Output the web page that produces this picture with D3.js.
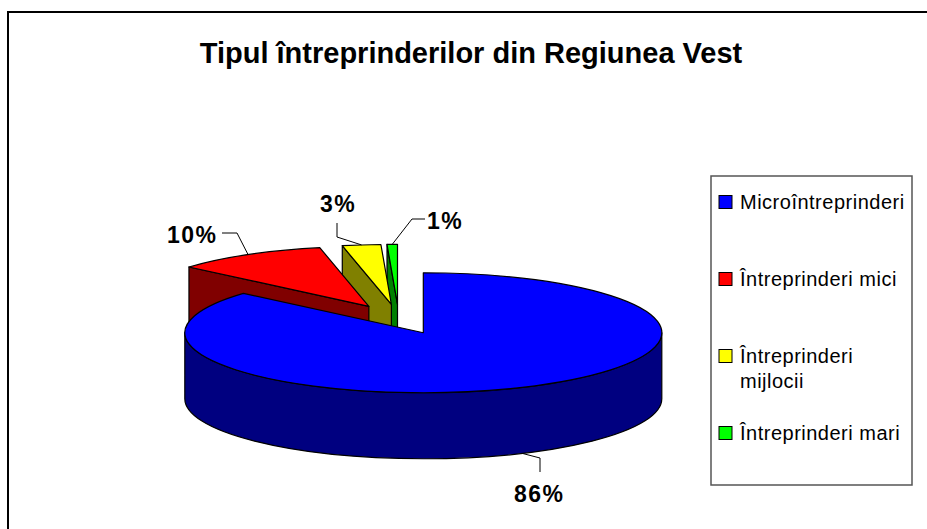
<!DOCTYPE html>
<html><head><meta charset="utf-8">
<script src="https://cdn.jsdelivr.net/npm/d3@7"></script>
<style>body{margin:0;background:#fff;overflow:hidden}</style>
</head><body><svg id="c" width="927" height="529"></svg>
<script>
const titleText = "Tipul întreprinderilor din Regiunea Vest";
const categories = ["Microîntreprinderi", "Întreprinderi mici", "Întreprinderi mijlocii", "Întreprinderi mari"];
const legendLines = [["Microîntreprinderi"], ["Întreprinderi mici"], ["Întreprinderi", "mijlocii"], ["Întreprinderi mari"]];
const values = [86.4, 10.3, 2.6, 0.7];
const topColors = ["#0000FF", "#FF0000", "#FFFF00", "#00FF00"];
const sideColors = ["#000080", "#800000", "#808000", "#008000"];

// layout (positions only)
const labelLayout = [
  {x: 514, y: 502, elbow: [[540, 458], [540, 472]]},
  {x: 167, y: 243, elbow: [[237, 233], [222, 233]]},
  {x: 320, y: 212, elbow: [[337, 237], [337, 223]]},
  {x: 427, y: 229, elbow: [[412, 219], [425, 219]]}
];

const svg = d3.select("#c");
const FONT = "'Liberation Sans', Arial, sans-serif";

// outer chart frame (only top and left edges are inside the picture)
svg.append("path").attr("d", "M8,529L8,12L927,12")
  .attr("fill", "none").attr("stroke", "#000").attr("stroke-width", 2);

// title
svg.append("text").attr("x", 471).attr("y", 63).attr("text-anchor", "middle")
  .attr("font-family", FONT).attr("font-weight", "bold").attr("font-size", 29)
  .text(titleText);

// pie geometry
const cx = 398.8, cy = 319.2, rx = 238.5, ry = 60, depth = 66, explode = 0.248;
const pie = d3.pie().sort(null).value(d => d);
const arcs = pie(values);
const total = d3.sum(values);
const P = a => [rx * Math.sin(a), -ry * Math.cos(a)];

arcs.forEach(d => {
  const mid = (d.startAngle + d.endAngle) / 2;
  const o = P(mid);
  d.apex = [cx + explode * o[0], cy + explode * o[1]];
  d.mid = mid;
});

const pt = (A, a, dy = 0) => { const p = P(a); return [A[0] + p[0], A[1] + p[1] + dy]; };

function topPath(d) {
  const A = d.apex, s = pt(A, d.startAngle), e = pt(A, d.endAngle);
  const large = (d.endAngle - d.startAngle) > Math.PI ? 1 : 0;
  return `M${A[0]},${A[1]}L${s[0]},${s[1]}A${rx},${ry} 0 ${large} 1 ${e[0]},${e[1]}Z`;
}
function facePath(d, a) {
  const A = d.apex, s = pt(A, a), sd = pt(A, a, depth);
  return `M${A[0]},${A[1]}L${s[0]},${s[1]}L${sd[0]},${sd[1]}L${A[0]},${A[1] + depth}Z`;
}
function outerSidePath(d) {
  const a0 = Math.max(d.startAngle, Math.PI / 2), a1 = Math.min(d.endAngle, 3 * Math.PI / 2);
  if (a1 <= a0) return null;
  const A = d.apex;
  const p0 = pt(A, a0), p1 = pt(A, a1), q1 = pt(A, a1, depth), q0 = pt(A, a0, depth);
  return `M${p0[0]},${p0[1]}A${rx},${ry} 0 0 1 ${p1[0]},${p1[1]}L${q1[0]},${q1[1]}A${rx},${ry} 0 0 0 ${q0[0]},${q0[1]}Z`;
}

const g = svg.append("g").attr("stroke", "#000").attr("stroke-width", 1.2).attr("stroke-linejoin", "round");
const order = arcs.map((d, i) => i).reverse().filter(i => i !== 0).concat([0]);
order.forEach(i => {
  const d = arcs[i];
  if (Math.sin(d.startAngle) < -1e-6)
    g.append("path").attr("d", facePath(d, d.startAngle)).attr("fill", sideColors[i]);
  if (Math.sin(d.endAngle) > 1e-6)
    g.append("path").attr("d", facePath(d, d.endAngle)).attr("fill", sideColors[i]);
  const side = outerSidePath(d);
  if (side) g.append("path").attr("d", side).attr("fill", sideColors[i]);
  g.append("path").attr("d", topPath(d)).attr("fill", topColors[i]);
});

// data labels with leader lines
arcs.forEach((d, i) => {
  const L = labelLayout[i];
  const front = Math.cos(d.mid) < 0;
  const s = pt(d.apex, d.mid, front ? depth : 0);
  const pts = [s].concat(L.elbow);
  svg.append("path").attr("d", d3.line()(pts)).attr("fill", "none").attr("stroke", "#000").attr("stroke-width", 1);
  svg.append("text").attr("x", L.x).attr("y", L.y)
    .attr("font-family", FONT).attr("font-weight", "bold").attr("font-size", 23)
    .attr("letter-spacing", 1.5)
    .text(Math.round(d.value / total * 100) + "%");
});

// legend
const lg = svg.append("g");
lg.append("rect").attr("x", 711).attr("y", 176).attr("width", 201).attr("height", 309)
  .attr("fill", "#fff").attr("stroke", "#555").attr("stroke-width", 1.5);
const rowY = d3.scaleLinear().domain([0, 1]).range([202, 279]);
categories.forEach((c, i) => {
  const y = rowY(i);
  lg.append("rect").attr("x", 719).attr("y", y - 6.5).attr("width", 13).attr("height", 13)
    .attr("fill", topColors[i]).attr("stroke", "#000").attr("stroke-width", 1);
  const t = lg.append("text").attr("x", 740).attr("y", y + 6.5)
    .attr("font-family", FONT).attr("font-size", 20).attr("letter-spacing", 0.5);
  legendLines[i].forEach((ln, k) => {
    t.append("tspan").attr("x", 740).attr("dy", k === 0 ? 0 : 25).text(ln);
  });
});
</script></body></html>
